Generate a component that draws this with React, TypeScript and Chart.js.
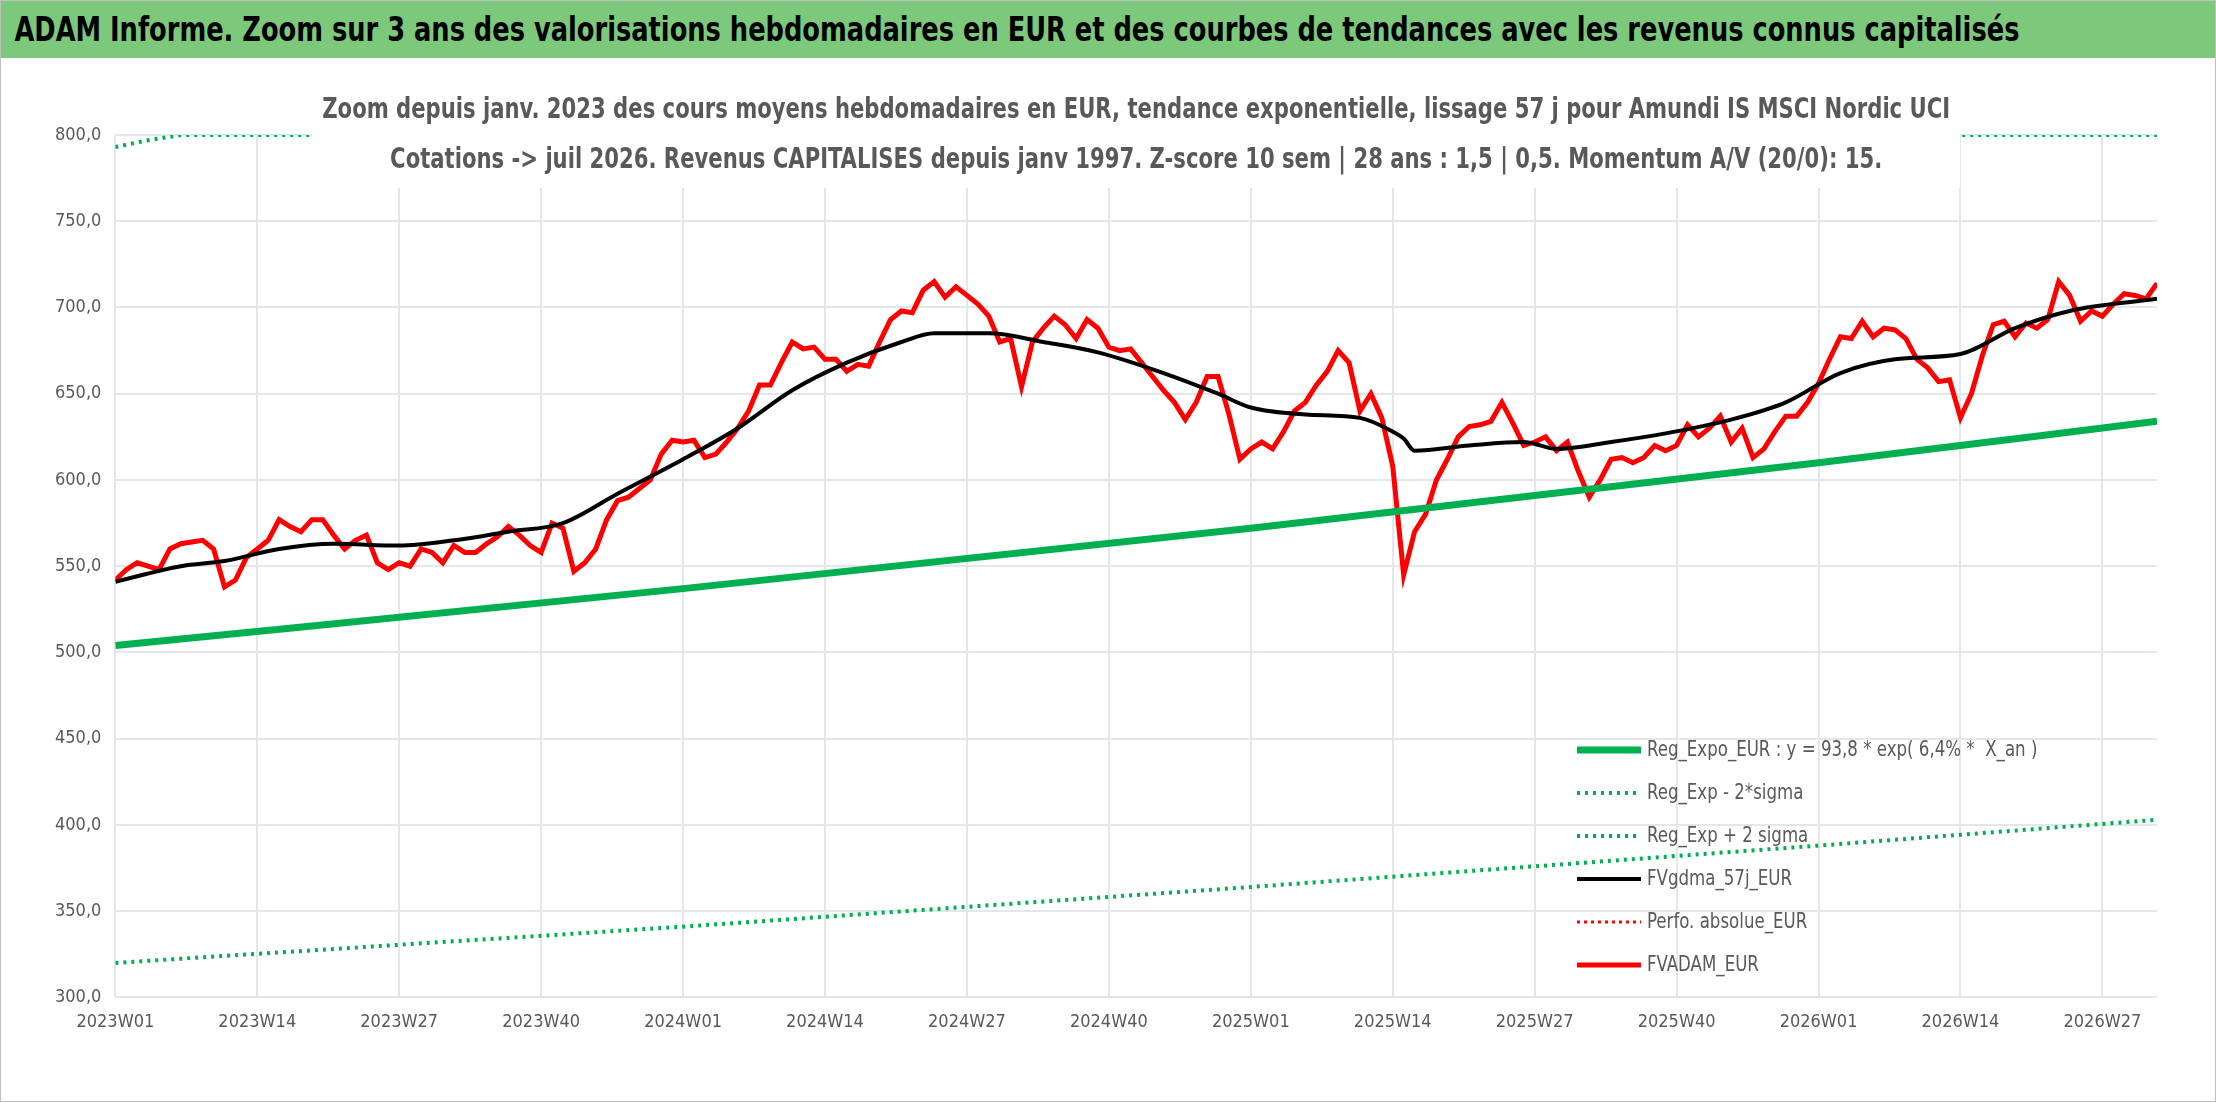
import { useEffect, useRef } from "react";
import { Chart, registerables } from "chart.js";

Chart.register(...registerables);

const FONT = '"DejaVu Sans Condensed", "Noto Sans", sans-serif';

// Weekly index since 2023W01
const START_YEAR = 2023;
const WEEKS_MAX = 187;

const redValues = [
  542, 548, 552, 550, 548, 560, 563, 564, 565, 560, 538, 542, 555, 560, 565, 577, 573, 570, 577, 577,
  568, 560, 565, 568, 552, 548, 552, 550, 560, 558, 552, 562, 558, 558, 563, 567, 573, 568, 562, 558,
  575, 572, 547, 552, 560, 577, 588, 590, 595, 600, 615, 623, 622, 623, 613, 615, 622, 630, 640, 655,
  655, 668, 680, 676, 677, 670, 670, 663, 667, 666, 680, 693, 698, 697, 710, 715, 706, 712, 707, 702,
  695, 680, 682, 654, 680, 688, 695, 690, 682, 693, 688, 677, 675, 676, 668, 660, 652, 645, 635, 645,
  660, 660, 638, 612, 618, 622, 618, 628, 640, 645, 655, 663, 675, 668, 640, 650, 636, 608, 545, 570,
  580, 600, 612, 625, 631, 632, 634, 645, 633, 620, 622, 625, 617, 622, 605, 590, 600, 612, 613, 610,
  613, 620, 617, 620, 632, 625, 630, 637, 622, 630, 613, 618, 628, 637, 637, 645, 656, 670, 683, 682,
  692, 683, 688, 687, 682, 670, 665, 657, 658, 636, 650, 672, 690, 692, 683, 691, 688, 693, 715, 707,
  692, 698, 695, 702, 708, 707, 705, 714,
];

const blackWeeks = [0, 6, 10, 15, 20, 26, 31, 36, 41, 46, 52, 57, 62, 67, 72, 75, 80, 85, 90, 96, 101, 104, 109, 114, 117, 118, 119, 124, 129, 132, 137, 142, 148, 153, 158, 163, 169, 174, 179, 187];
const blackValues = [541, 550, 553, 560, 563, 562, 565, 570, 575, 592, 612, 630, 652, 668, 680, 685, 685, 680, 674, 662, 650, 642, 638, 636, 628, 624, 617, 620, 622, 618, 622, 627, 635, 645, 662, 670, 673, 688, 698, 705];

const regWeeks = [0, 52, 104, 156, 187];
const regValues = [504, 537, 572, 610, 634];
const lowValues = [320, 341, 364, 388, 403];
const highWeeks = [0, 3, 6, 187];
const highValues = [793, 797, 800, 800];

const legendItems = [
  { label: "Reg_Expo_EUR : y = 93,8 * exp( 6,4% *  X_an )", color: "#00b050", width: 7, dash: [] as number[] },
  { label: "Reg_Exp - 2*sigma", color: "#00b050", width: 4, dash: [3, 5] },
  { label: "Reg_Exp + 2 sigma", color: "#00b050", width: 4, dash: [3, 5] },
  { label: "FVgdma_57j_EUR", color: "#000000", width: 4, dash: [] },
  { label: "Perfo. absolue_EUR", color: "#ff0000", width: 3, dash: [3, 4] },
  { label: "FVADAM_EUR", color: "#ff0000", width: 5, dash: [] },
];

const titleLines = [
  "Zoom depuis janv. 2023 des cours moyens hebdomadaires en EUR, tendance exponentielle, lissage 57 j pour Amundi IS MSCI Nordic UCI",
  "Cotations -> juil 2026. Revenus CAPITALISES depuis janv 1997. Z-score 10 sem | 28 ans : 1,5 | 0,5. Momentum A/V (20/0): 15.",
];

const weekLabel = (i: number) => {
  const y = START_YEAR + Math.floor(i / 52);
  const w = (i % 52) + 1;
  return `${y}W${w < 10 ? "0" + w : w}`;
};

const pts = (xs: number[], ys: number[]) => xs.map((x, i) => ({ x, y: ys[i] }));

const SQ = 0.84; // horizontal squeeze to mimic a condensed face

const overlay = {
  id: "overlay",
  afterDatasetsDraw(chart: Chart) {
    const ctx = chart.ctx;
    const area = chart.chartArea;
    ctx.save();
    ctx.font = `bold 28px ${FONT}`;
    const cx = (area.left + area.right) / 2;
    const w = Math.max(...titleLines.map((t) => ctx.measureText(t).width)) * SQ + 20;
    ctx.fillStyle = "#ffffff";
    ctx.fillRect(cx - w / 2, 30, w, 100);
    ctx.fillStyle = "#595959";
    ctx.textAlign = "center";
    ctx.textBaseline = "middle";
    ctx.save();
    ctx.scale(SQ, 1);
    titleLines.forEach((t, i) => ctx.fillText(t, cx / SQ, 53 + i * 50));
    ctx.restore();
    // legend
    ctx.textAlign = "left";
    ctx.font = `22px ${FONT}`;
    legendItems.forEach((it, i) => {
      const y = 692 + i * 43;
      ctx.strokeStyle = it.color;
      ctx.lineWidth = it.width;
      ctx.setLineDash(it.dash);
      ctx.beginPath();
      ctx.moveTo(1576, y);
      ctx.lineTo(1640, y);
      ctx.stroke();
      ctx.setLineDash([]);
      ctx.fillStyle = "#595959";
      ctx.save();
      ctx.scale(SQ, 1);
      ctx.fillText(it.label, 1646 / SQ, y);
      ctx.restore();
    });
    ctx.restore();
  },
};

function App() {
  const canvasRef = useRef<HTMLCanvasElement>(null);

  useEffect(() => {
    document.body.style.margin = "0";
    if (!canvasRef.current) return;
    const chart = new Chart(canvasRef.current, {
      type: "line",
      data: {
        datasets: [
          { label: "high", data: pts(highWeeks, highValues), borderColor: "#00b050", borderWidth: 4, borderDash: [3, 5], pointRadius: 0 },
          { label: "low", data: pts(regWeeks, lowValues), borderColor: "#00b050", borderWidth: 4, borderDash: [3, 5], pointRadius: 0 },
          { label: "reg", data: pts(regWeeks, regValues), borderColor: "#00b050", borderWidth: 7, pointRadius: 0, cubicInterpolationMode: "monotone" },
          { label: "mm", data: pts(blackWeeks, blackValues), borderColor: "#000000", borderWidth: 4, pointRadius: 0, cubicInterpolationMode: "monotone" },
          { label: "red", data: redValues.map((v, i) => ({ x: i, y: v })), borderColor: "#ff0000", borderWidth: 5, pointRadius: 0 },
        ],
      },
      options: {
        responsive: false,
        animation: false,
        layout: { padding: { top: 77, right: 58, left: 40, bottom: 54 } },
        plugins: { legend: { display: false }, tooltip: { enabled: false } },
        scales: {
          x: {
            type: "linear",
            min: 0,
            max: WEEKS_MAX,
            grid: { color: "#e3e6ea", lineWidth: 2, drawTicks: false },
            border: { display: false },
            ticks: {
              stepSize: 13,
              autoSkip: false,
              maxRotation: 0,
              padding: 14,
              color: "#595959",
              font: { family: FONT, size: 18 },
              callback: (v) => weekLabel(Number(v)),
            },
            afterBuildTicks: (ax) => {
              ax.ticks = [];
              for (let i = 0; i <= 182; i += 13) ax.ticks.push({ value: i });
            },
          },
          y: {
            min: 300,
            max: 800,
            grid: { color: "#e3e6ea", lineWidth: 2, drawTicks: false },
            border: { display: false },
            ticks: {
              stepSize: 50,
              padding: 14,
              color: "#595959",
              font: { family: FONT, size: 18 },
              callback: (v) => Number(v).toFixed(1).replace(".", ","),
            },
          },
        },
      },
      plugins: [overlay],
    });
    return () => chart.destroy();
  }, []);

  return (
    <div style={{ width: 2214, height: 1100, border: "1px solid #bfbfbf", background: "#fff", overflow: "hidden" }}>
      <div style={{ height: 57, background: "#7dc97c", overflow: "hidden", whiteSpace: "nowrap" }}>
        <div style={{ display: "inline-block", transformOrigin: "left center", transform: `scaleX(${SQ})`, paddingLeft: 16, lineHeight: "57px", fontFamily: FONT, fontWeight: "bold", fontSize: 34, color: "#000" }}>
          ADAM Informe. Zoom sur 3 ans des valorisations hebdomadaires en EUR et des courbes de tendances avec les revenus connus capitalisés
        </div>
      </div>
      <canvas ref={canvasRef} width={2214} height={1043} />
    </div>
  );
}

export default App;
